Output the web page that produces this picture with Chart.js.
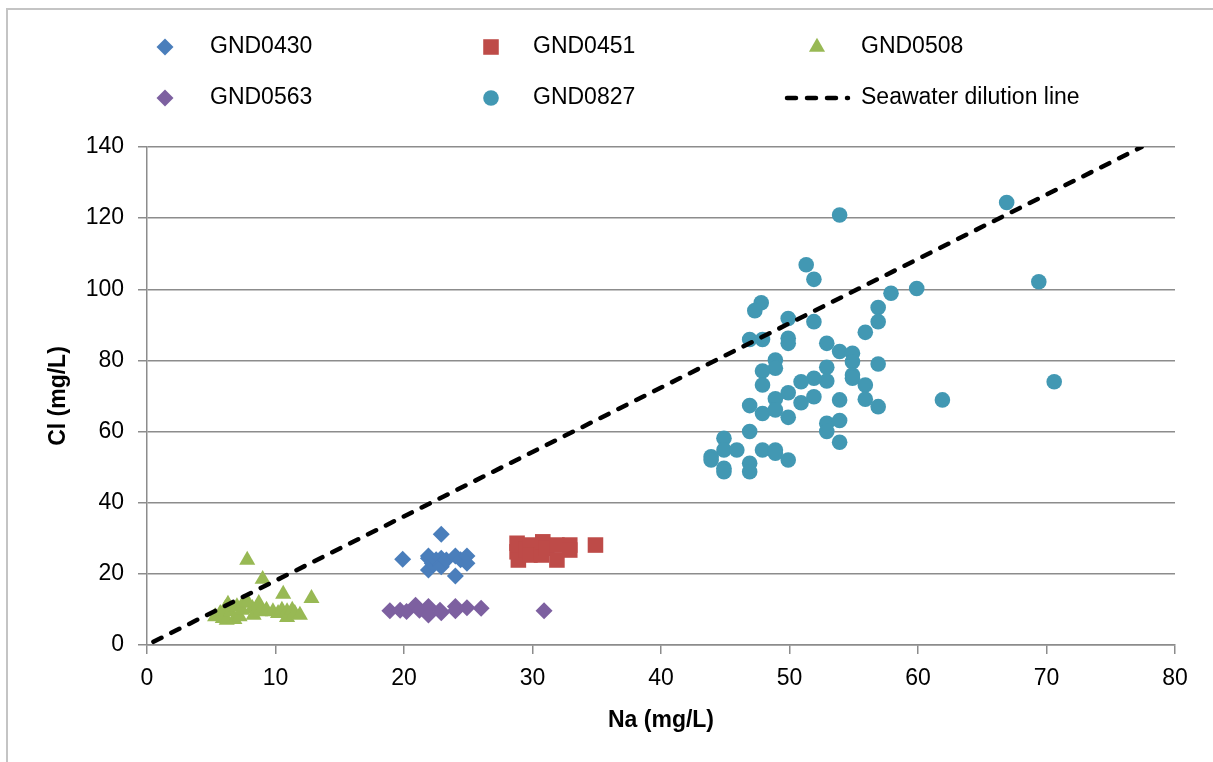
<!DOCTYPE html>
<html>
<head>
<meta charset="utf-8">
<title>Na vs Cl</title>
<script src="https://cdn.jsdelivr.net/npm/chart.js@4.4.1/dist/chart.umd.min.js"></script>
<style>
  html, body { margin: 0; padding: 0; background: #fff; }
  #wrap { position: relative; width: 1213px; height: 762px; }
</style>
</head>
<body>
<div id="wrap"><canvas id="chart" width="1213" height="762"></canvas></div>
<script>
// Datos: [Na, Cl] en mg/L
const gnd0430 = [
  [19.9, 24.1], [21.9, 25.0], [21.9, 24.4], [21.9, 21.1], [22.2, 23.0], [22.5, 24.0],
  [22.9, 31.1], [22.9, 24.4], [22.9, 22.5], [22.9, 22.0], [23.3, 23.9], [24.0, 25.0],
  [24.0, 19.4], [24.4, 24.0], [24.9, 25.0], [24.9, 23.0]
];
const gnd0451 = [
  [28.8, 28.6], [28.8, 26.2], [28.9, 23.9], [29.5, 26.8], [29.8, 28.1], [29.8, 25.3],
  [30.7, 25.3], [30.8, 29.0], [31.1, 27.2], [31.9, 28.1], [31.9, 23.9], [32.9, 28.1],
  [32.9, 26.7], [34.9, 28.1]
];
const gnd0508 = [
  [5.3, 8.0], [5.7, 8.9], [5.9, 7.5], [6.1, 10.3], [6.2, 7.0], [6.3, 11.5], [6.5, 9.4],
  [6.8, 7.2], [7.0, 10.8], [7.2, 8.0], [7.4, 9.8], [7.5, 11.8], [7.8, 12.2], [7.8, 23.9],
  [8.2, 10.3], [8.3, 8.4], [8.7, 11.7], [8.8, 9.4], [9.0, 18.5], [9.3, 9.8], [9.8, 9.4],
  [10.2, 8.9], [10.5, 9.8], [10.6, 14.3], [10.9, 9.4], [10.9, 7.8], [11.3, 9.8],
  [11.5, 8.9], [11.9, 8.4], [12.8, 13.1]
];
const gnd0563 = [
  [18.9, 9.6], [19.7, 9.8], [20.2, 9.4], [20.9, 11.2], [21.2, 9.8], [21.9, 10.8],
  [21.9, 8.4], [22.8, 9.8], [22.9, 9.1], [24.0, 10.8], [24.0, 9.6], [24.9, 10.5],
  [26.0, 10.3], [30.9, 9.6]
];
const gnd0827 = [
  [51.3, 106.9], [51.9, 102.8], [59.9, 100.2], [57.9, 98.9], [56.9, 94.9], [56.9, 90.9],
  [55.9, 87.9], [47.8, 96.2], [47.3, 94.0], [49.9, 91.8], [51.9, 90.9], [46.9, 85.9],
  [47.9, 85.9], [49.9, 86.2], [49.9, 84.8], [52.9, 84.8], [53.9, 82.5], [54.9, 82.0],
  [54.9, 79.6], [56.9, 79.0], [48.9, 80.1], [48.9, 77.8], [47.9, 77.0], [52.9, 78.1],
  [52.9, 74.2], [51.9, 75.0], [50.9, 74.0], [54.9, 75.9], [54.9, 75.0], [55.9, 73.1],
  [47.9, 73.1], [49.9, 70.9], [48.9, 69.2], [50.9, 68.1], [51.9, 69.8], [53.9, 68.9],
  [55.9, 69.1], [56.9, 67.0], [46.9, 67.3], [47.9, 65.1], [48.9, 66.1], [49.9, 64.0],
  [52.9, 62.3], [52.9, 60.0], [53.9, 63.1], [53.9, 57.0], [46.9, 60.0], [44.9, 58.1],
  [44.9, 54.8], [45.9, 54.8], [43.9, 52.9], [43.9, 52.0], [44.9, 49.7], [44.9, 48.7],
  [46.9, 51.1], [46.9, 48.7], [47.9, 54.8], [48.9, 54.8], [48.9, 53.9], [49.9, 52.0],
  [53.9, 120.9], [66.9, 124.4], [69.4, 102.1], [70.6, 74.0], [61.9, 68.9]
];
const seawaterLine = [[0.5, 0.9], [77.4, 140.0]];

const xTicks = [0, 10, 20, 30, 40, 50, 60, 70, 80];
const yTicks = [0, 20, 40, 60, 80, 100, 120, 140];

const FONT = 'Liberation Sans, Arial, sans-serif';
const GRID = '#8c8c8c';

const toPoints = (arr) => arr.map(([x, y]) => ({ x, y }));

const seriesStyle = [
  { label: 'GND0430', data: gnd0430, color: '#4A7EBB', style: 'rectRot', r: 8.5 },
  { label: 'GND0451', data: gnd0451, color: '#BE4B48', style: 'rect', r: 11 },
  { label: 'GND0508', data: gnd0508, color: '#98B954', style: 'triangle', r: 9.3 },
  { label: 'GND0563', data: gnd0563, color: '#7D60A0', style: 'rectRot', r: 8.5 },
  { label: 'GND0827', data: gnd0827, color: '#4298B3', style: 'circle', r: 7.8 }
];

const datasets = seriesStyle.map((s, i) => ({
  label: s.label,
  data: toPoints(s.data),
  pointStyle: s.style,
  pointRadius: s.r,
  pointHoverRadius: s.r,
  backgroundColor: s.color,
  borderColor: s.color,
  pointBorderWidth: 0,
  showLine: false,
  order: i + 1
}));

datasets.push({
  label: 'Seawater dilution line',
  data: toPoints(seawaterLine),
  showLine: true,
  pointRadius: 0,
  borderColor: '#000',
  borderWidth: 4.5,
  borderDash: [9, 11],
  borderCapStyle: 'round',
  order: 0
});

function drawMarker(ctx, style, x, y, r, color) {
  ctx.save();
  ctx.fillStyle = color;
  ctx.beginPath();
  if (style === 'rectRot') {
    ctx.moveTo(x, y - r); ctx.lineTo(x + r, y); ctx.lineTo(x, y + r); ctx.lineTo(x - r, y);
  } else if (style === 'rect') {
    const s = r * Math.SQRT1_2;
    ctx.rect(x - s, y - s, 2 * s, 2 * s);
  } else if (style === 'triangle') {
    ctx.moveTo(x, y - r);
    ctx.lineTo(x + r * Math.sin(2 * Math.PI / 3), y + r / 2);
    ctx.lineTo(x - r * Math.sin(2 * Math.PI / 3), y + r / 2);
  } else {
    ctx.arc(x, y, r, 0, Math.PI * 2);
  }
  ctx.closePath();
  ctx.fill();
  ctx.restore();
}

// Leyenda en rejilla de 3 columnas como en Excel
const gridLegend = {
  id: 'gridLegend',
  beforeDraw(chart) {
    const ctx = chart.ctx;
    // marco exterior del gráfico
    ctx.save();
    ctx.fillStyle = '#c4c4c4';
    ctx.fillRect(6, 8, 1213, 2);
    ctx.fillRect(6, 8, 2, 762);
    ctx.restore();
  },
  afterDraw(chart) {
    const ctx = chart.ctx;
    const colX = [165, 491, 817];
    const textX = [210, 533, 861];
    const rowY = [47, 98];
    ctx.save();
    ctx.font = '23px ' + FONT;
    ctx.fillStyle = '#000';
    ctx.textBaseline = 'middle';
    seriesStyle.forEach((s, i) => {
      const col = i % 3, row = Math.floor(i / 3);
      drawMarker(ctx, s.style, colX[col], rowY[row], s.r, s.color);
      ctx.fillText(s.label, textX[col], rowY[row]);
    });
    // línea de dilución
    ctx.strokeStyle = '#000';
    ctx.lineWidth = 4.5;
    ctx.lineCap = 'round';
    ctx.setLineDash([9, 11]);
    ctx.beginPath();
    ctx.moveTo(787, rowY[1]);
    ctx.lineTo(848, rowY[1]);
    ctx.stroke();
    ctx.setLineDash([]);
    ctx.fillText('Seawater dilution line', textX[2], rowY[1]);
    ctx.restore();
  }
};

new Chart(document.getElementById('chart'), {
  type: 'scatter',
  data: { datasets },
  options: {
    responsive: false,
    animation: false,
    layout: { padding: { left: 0, top: 147, right: 38, bottom: 0 } },
    plugins: {
      legend: { display: false },
      tooltip: { enabled: false }
    },
    scales: {
      x: {
        type: 'linear',
        min: xTicks[0],
        max: xTicks[xTicks.length - 1],
        afterFit: (scale) => { scale.height = 117; },
        ticks: { stepSize: 10, color: '#000', font: { family: FONT, size: 23 }, padding: 11 },
        grid: { drawOnChartArea: false, drawTicks: true, tickLength: 9, color: GRID, lineWidth: 1.5 },
        border: { color: GRID, width: 1.5 },
        title: {
          display: true, text: 'Na (mg/L)', color: '#000',
          font: { family: FONT, size: 23, weight: 'bold' },
          padding: { top: 0, bottom: 28 }
        }
      },
      y: {
        type: 'linear',
        min: yTicks[0],
        max: yTicks[yTicks.length - 1],
        afterFit: (scale) => { scale.width = 147; },
        ticks: { stepSize: 20, color: '#000', font: { family: FONT, size: 23 }, padding: 14 },
        grid: { drawTicks: true, tickLength: 9, color: GRID, lineWidth: 1.5 },
        border: { color: GRID, width: 1.5 },
        title: {
          display: true, text: 'Cl (mg/L)', color: '#000',
          font: { family: FONT, size: 23, weight: 'bold' },
          padding: { top: 45, bottom: 0 }
        }
      }
    }
  },
  plugins: [gridLegend]
});
</script>
</body>
</html>
